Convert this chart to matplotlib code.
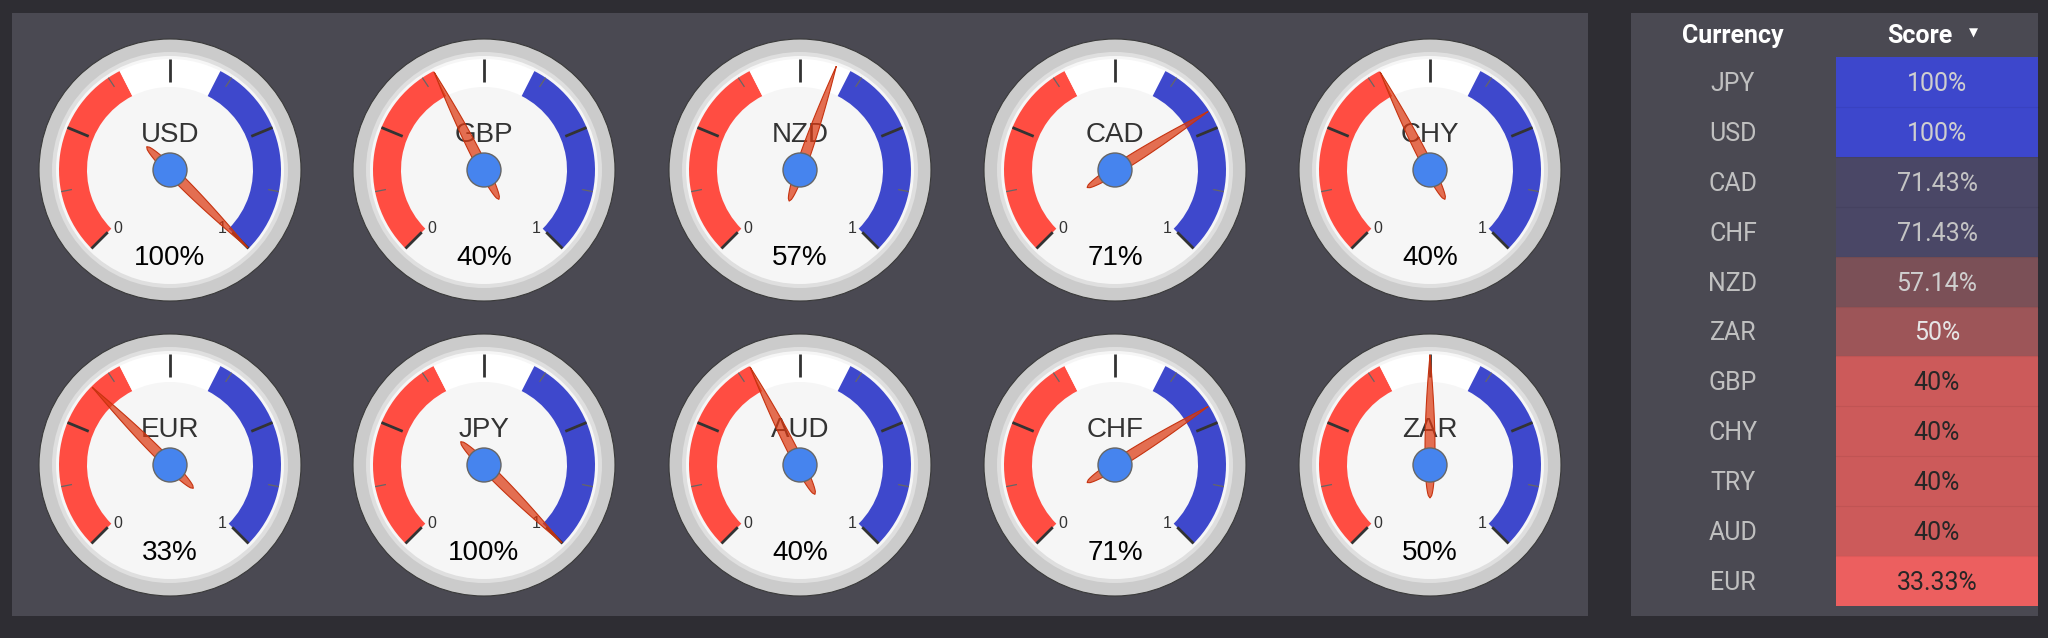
import numpy as np
import matplotlib
matplotlib.use("Agg")
import matplotlib.pyplot as plt
from matplotlib.patches import Circle, Wedge, Rectangle, Polygon

# gauge data (two rows of five)
gauge_names = ["USD", "GBP", "NZD", "CAD", "CHY",
               "EUR", "JPY", "AUD", "CHF", "ZAR"]
gauge_values = [1.00, 0.40, 0.5714, 0.7143, 0.40,
                0.3333, 1.00, 0.40, 0.7143, 0.50]

# table data
table_currencies = ["JPY", "USD", "CAD", "CHF", "NZD", "ZAR",
                    "GBP", "CHY", "TRY", "AUD", "EUR"]
table_scores = [100, 100, 71.43, 71.43, 57.14, 50, 40, 40, 40, 40, 33.33]

# band ranges on the dial (0..1)
red_band = (0.0, 0.4)
white_band = (0.4, 0.6)
blue_band = (0.6, 1.0)

W, H = 2048, 638
BG = "#2e2d33"
PANEL = "#4a4952"
GAUGE_FONT = "Liberation Sans"
TABLE_FONT = "Roboto"

fig = plt.figure(figsize=(W / 100, H / 100), dpi=100, facecolor=BG)
ax = fig.add_axes([0, 0, 1, 1])
ax.set_xlim(0, W)
ax.set_ylim(H, 0)
ax.axis("off")
ax.set_facecolor(BG)

# panels
ax.add_patch(Rectangle((12, 13), 1576, 603, facecolor=PANEL, edgecolor="none"))
ax.add_patch(Rectangle((1631, 13), 407, 603, facecolor=PANEL, edgecolor="none"))

R = 131


def ang(v):
    # degrees clockwise from top
    return -135 + 270 * v


def pt(cx, cy, r, a):
    t = np.radians(a)
    return cx + r * np.sin(t), cy - r * np.cos(t)


def band(cx, cy, v0, v1, color):
    ax.add_patch(Wedge((cx, cy), 111, ang(v0) - 90, ang(v1) - 90, width=28,
                       facecolor=color, edgecolor="none"))


def draw_gauge(cx, cy, name, value):
    ax.add_patch(Circle((cx, cy), R, facecolor="#cbcbcb", edgecolor="#3a3a3a", lw=0.8))
    ax.add_patch(Circle((cx, cy), 118, facecolor="#dfdfdf", edgecolor="none"))
    ax.add_patch(Circle((cx, cy), 114, facecolor="#f6f6f6", edgecolor="none"))
    band(cx, cy, *red_band, "#ff4d42")
    band(cx, cy, *white_band, "#ffffff")
    band(cx, cy, *blue_band, "#3e48cc")

    # ticks
    for k in range(9):
        v = k / 8
        a = ang(v)
        if k % 2 == 0:
            p0, p1 = pt(cx, cy, 111, a), pt(cx, cy, 88, a)
            ax.plot([p0[0], p1[0]], [p0[1], p1[1]], color="#333333", lw=2.0,
                    solid_capstyle="butt")
        else:
            p0, p1 = pt(cx, cy, 111, a), pt(cx, cy, 100, a)
            ax.plot([p0[0], p1[0]], [p0[1], p1[1]], color="#666666", lw=0.9,
                    solid_capstyle="butt")

    lx, ly = pt(cx, cy, 78, ang(0) - 3)
    ax.text(lx, ly + 5, "0", ha="center", va="baseline", fontsize=11.5,
            color="#333333", family=GAUGE_FONT)
    lx, ly = pt(cx, cy, 78, ang(1) + 3)
    ax.text(lx, ly + 5, "1", ha="center", va="baseline", fontsize=11.5,
            color="#333333", family=GAUGE_FONT)

    ax.text(cx, cy - 28, name, ha="center", va="baseline", fontsize=20,
            color="#333333", family=GAUGE_FONT)
    ax.text(cx, cy + 95, f"{round(value * 100)}%", ha="center", va="baseline",
            fontsize=20, color="#000000", family=GAUGE_FONT)

    # needle: rounded tail, pointed tip
    a = np.radians(ang(value))
    d = np.array([np.sin(a), -np.cos(a)])
    n = np.array([np.cos(a), np.sin(a)])
    tail, tip, hw = 33, 110, 5.0
    s = np.linspace(0, 1, 60)
    prof = s ** 0.5 * (1 - s)
    prof = hw * prof / prof.max()
    L = -tail + s * (tip + tail)
    left = np.array([cx, cy]) + np.outer(L, d) + np.outer(prof, n)
    right = np.array([cx, cy]) + np.outer(L, d) - np.outer(prof, n)
    poly = np.vstack([left, right[::-1]])
    ax.add_patch(Polygon(poly, closed=True, facecolor=(0.863, 0.224, 0.071, 0.72),
                         edgecolor="#c63310", lw=0.8, zorder=5))

    ax.add_patch(Circle((cx, cy), 17, facecolor="#4684ee", edgecolor="#666666",
                        lw=1.0, zorder=6))


col_x = [170, 484, 800, 1115, 1430]
row_y = [170, 465]
for i, (name, val) in enumerate(zip(gauge_names, gauge_values)):
    draw_gauge(col_x[i % 5], row_y[i // 5], name, val)


# table
def score_colors(s):
    if s >= 99:
        return "#3d47cc", "#cfcfcf"
    if s >= 70:
        return "#4a4766", "#c4c4c4"
    if s >= 55:
        return "#7b5057", "#cfcfcf"
    if s >= 45:
        return "#9d5558", "#e6e6e6"
    if s >= 35:
        return "#cc5a5a", "#262626"
    return "#ec5f5f", "#262626"


ax.text(1733, 43, "Currency", ha="center", va="baseline", fontsize=18,
        fontweight="bold", color="white", family=TABLE_FONT)
ax.text(1920, 43, "Score", ha="center", va="baseline", fontsize=18,
        fontweight="bold", color="white", family=TABLE_FONT)
ax.text(1973, 33, "\u25BC", ha="center", va="center", fontsize=8.5,
        color="white", family="DejaVu Sans")

row_top, row_h = 57, 49.9
for i, (cur, sc) in enumerate(zip(table_currencies, table_scores)):
    y0 = row_top + i * row_h
    fc, tc = score_colors(sc)
    ax.add_patch(Rectangle((1836, y0), 202, row_h, facecolor=fc, edgecolor="none"))
    if i > 0:
        ax.plot([1836, 2038], [y0, y0], color="#000000", alpha=0.06, lw=0.8)
    yc = y0 + row_h / 2
    ax.text(1733, yc + 9, cur, ha="center", va="baseline", fontsize=18,
            color="#c0c0c0", family=TABLE_FONT)
    ax.text(1937, yc + 9, f"{sc:g}%", ha="center", va="baseline", fontsize=18,
            color=tc, family=TABLE_FONT)

fig.savefig("out.png", dpi=100, facecolor=BG)
